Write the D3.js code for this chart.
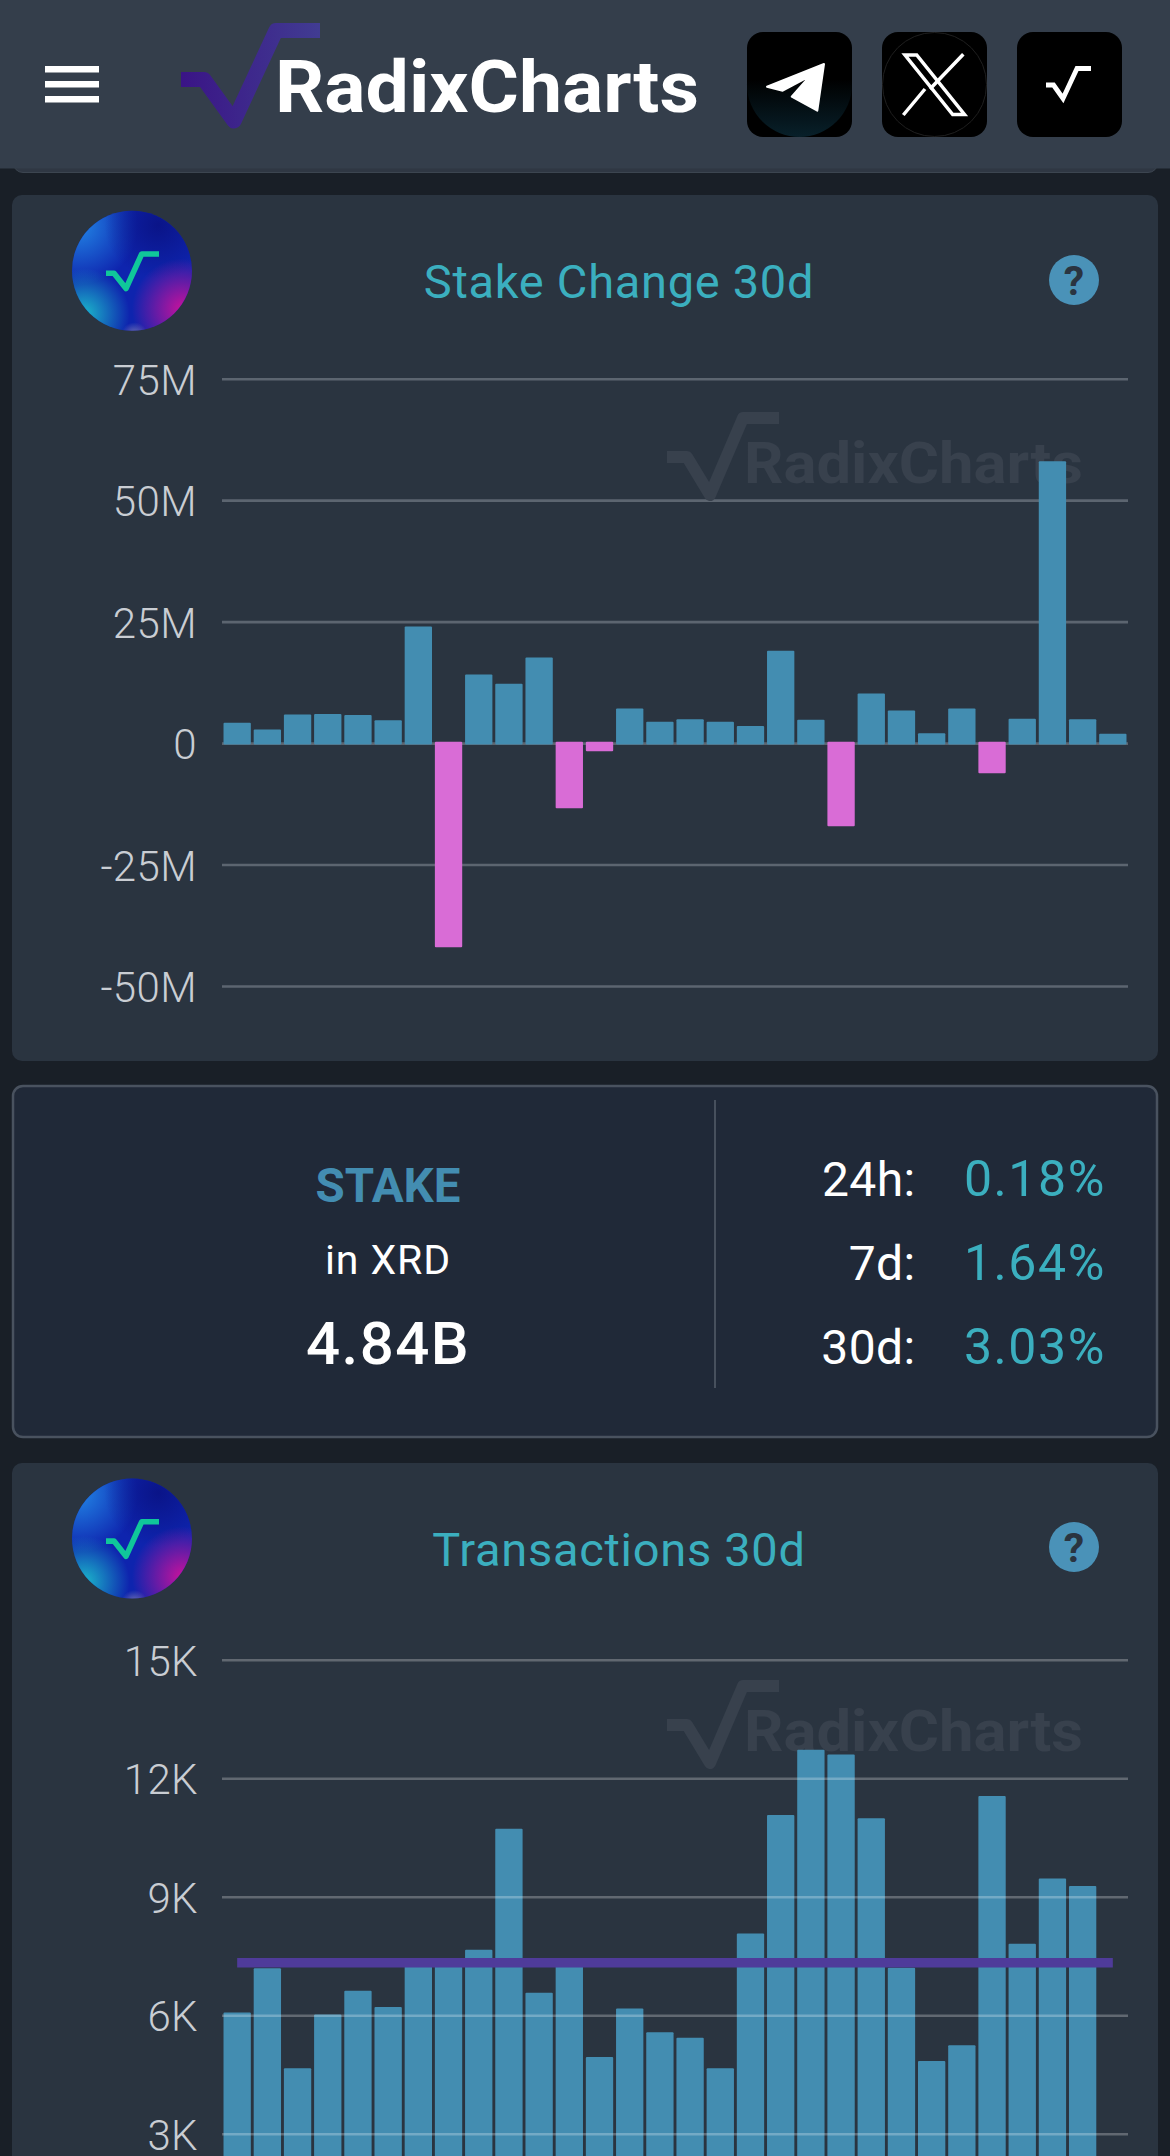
<!DOCTYPE html>
<html><head><meta charset="utf-8">
<script src="https://cdnjs.cloudflare.com/ajax/libs/d3/7.9.0/d3.min.js"></script>
<style>
html,body{margin:0;padding:0;background:#191f27;overflow:hidden;width:1170px;height:2156px}
svg{display:block;font-family:Roboto,"Noto Sans",sans-serif}
</style></head><body><svg id="c" width="1170" height="2156" viewBox="0 0 1170 2156"></svg>
<script>
// ---- data ----
const days = d3.range(1, 31).map(d => "Day " + d);
const stakeChange = [4.2,2.8,5.9,6.0,5.8,4.7,24.0,-42,14.1,12.2,17.6,-13.4,-1.7,7.1,4.4,4.9,4.4,3.5,19.0,4.8,-17.1,10.2,6.7,2.0,7.1,-6.2,5.0,58.0,4.9,1.9];
const stakeTicks = [75,50,25,0,-25,-50];
const transactions = [6.07,7.19,4.66,6.02,6.62,6.21,7.3,7.3,7.66,10.72,6.57,7.3,4.94,6.17,5.57,5.43,4.66,8.07,11.07,12.72,12.6,10.99,7.2,4.84,5.24,11.55,7.81,9.46,9.27,null];
const txTicks = [15,12,9,6,3];
const txAverage = 7.33;
const statLabels = ["24h:","7d:","30d:"];
const statValues = ["0.18%","1.64%","3.03%"];

// ---- style ----
const C = {head:"#343e4b",bg:"#191f27",card:"#2a3440",stat:"#202938",bar:"#438db1",neg:"#d96cd6",teal:"#3bafbf",
  grid:"#5c6570",label:"#c9cdd3",avg:"#4f3b9a",water:"#38414d"};
const svg = d3.select("#c");
const defs = svg.append("defs");

function radial(id,cx,cy,r,color,op){
  const g=defs.append("radialGradient").attr("id",id).attr("cx",cx).attr("cy",cy).attr("r",r);
  g.append("stop").attr("offset",0).attr("stop-color",color).attr("stop-opacity",op);
  g.append("stop").attr("offset",1).attr("stop-color",color).attr("stop-opacity",0);
}
radial("aBlue",.05,.12,.5,"#2286e6",1);
radial("aNavy",.72,.12,.45,"#0a1488",1);
radial("aCyan",.1,.86,.38,"#1cc0cc",.95);
radial("aMag",.92,.82,.42,"#c8129c",1);
radial("aPale",.52,1.04,.11,"#c8b0b8",.6);
const lg=defs.append("linearGradient").attr("id","logoG")
  .attr("gradientUnits","userSpaceOnUse").attr("x1",181).attr("x2",320).attr("y1",0).attr("y2",0);
lg.append("stop").attr("offset",0).attr("stop-color","#3a1486");
lg.append("stop").attr("offset",1).attr("stop-color","#413c92");
const tg=defs.append("linearGradient").attr("id","tgG").attr("x1",0).attr("x2",0).attr("y1",0).attr("y2",1);
tg.append("stop").attr("offset",.45).attr("stop-color","#000");
tg.append("stop").attr("offset",1).attr("stop-color","#08202a");

const line = d3.line();
function rrect(x,y,w,h,r,fill,stroke,sw){
  return svg.append("rect").attr("x",x).attr("y",y).attr("width",w).attr("height",h).attr("rx",r)
    .attr("fill",fill).attr("stroke",stroke||"none").attr("stroke-width",sw||0);
}

// ---- page frame ----
rrect(13,100,1145,72.5,10,"#2f3743","#3c4550",1);
rrect(0,0,1170,168.5,0,C.head);
rrect(12,195,1146,866,10,C.card);
rrect(13,1086,1144,351,10,C.stat,"#49525f",2.5);
rrect(12,1463,1146,720,10,C.card);

// hamburger
[66,81,96].forEach(y=>rrect(45,y,54,6.5,0,"#fff"));

// logo
svg.append("path").attr("d",line([[181,79.5],[204,79.5],[234,121],[276,30.5],[320,30.5]]))
  .attr("fill","none").attr("stroke","url(#logoG)").attr("stroke-width",15).attr("stroke-linejoin","round");
svg.append("text").attr("x",275).attr("y",112).attr("font-size",72).attr("font-weight",700).attr("fill","#fff")
  .attr("textLength",424).attr("lengthAdjust","spacingAndGlyphs").text("RadixCharts");

// buttons
[747,882,1017].forEach(x=>rrect(x,32,105,105,16,"#000"));
svg.append("circle").attr("cx",799.5).attr("cy",84.5).attr("r",52.5).attr("fill","url(#tgG)");
svg.append("path").attr("d",line([[767,86.7],[824,64],[817.3,110.7],[791.7,96.7],[810,76],[782.7,90.7]])+"Z")
  .attr("fill","#fff").attr("stroke","#fff").attr("stroke-width",2).attr("stroke-linejoin","round");
svg.append("circle").attr("cx",934.5).attr("cy",84.5).attr("r",52).attr("fill","none").attr("stroke","#1f1f1f");
svg.append("path").attr("d",line([[905,55],[916.7,55],[964.5,114.5],[952.7,114.5]])+"Z")
  .attr("fill","none").attr("stroke","#fff").attr("stroke-width",3.5);
svg.append("path").attr("d",line([[963.3,54.3],[930,89]])+line([[925,89],[903.3,115]]))
  .attr("fill","none").attr("stroke","#fff").attr("stroke-width",3.5);
svg.append("path").attr("d",line([[1046,85],[1053.5,85],[1063,98.5],[1077,68.5],[1091,68.5]]))
  .attr("fill","none").attr("stroke","#fff").attr("stroke-width",4.8);

function avatar(cy){
  const cx=132;
  svg.append("circle").attr("cx",cx).attr("cy",cy).attr("r",60).attr("fill","#0e24ae");
  ["aBlue","aNavy","aCyan","aMag","aPale"].forEach(id=>
    svg.append("circle").attr("cx",cx).attr("cy",cy).attr("r",60).attr("fill",`url(#${id})`));
  const o=cy-270.7;
  svg.append("path").attr("d",line([[106,273.3],[114,273.3],[126,288.5],[141.7,254],[159,254]].map(p=>[p[0],p[1]+o])))
    .attr("fill","none").attr("stroke","#10c79a").attr("stroke-width",5.6).attr("stroke-linejoin","round");
}
function help(cy){
  svg.append("circle").attr("cx",1074).attr("cy",cy).attr("r",25).attr("fill","#4a92b8");
  svg.append("text").attr("x",1074).attr("y",cy+14.5).attr("text-anchor","middle").attr("font-size",41).attr("font-weight",700)
    .attr("fill",C.card).text("?");
}
function title(t,y){
  svg.append("text").attr("x",619).attr("y",y).attr("text-anchor","middle").attr("font-size",47)
    .attr("letter-spacing",0.7).attr("fill",C.teal).text(t);
}
function watermark(o){
  const g=svg.append("g").attr("fill",C.water);
  g.append("path").attr("d",line([[667,457+o],[687,457+o],[710,495+o],[743,418+o],[779,418+o]]))
    .attr("fill","none").attr("stroke",C.water).attr("stroke-width",12).attr("stroke-linejoin","round");
  g.append("text").attr("x",744).attr("y",483+o).attr("font-size",57).attr("font-weight",700)
    .attr("textLength",339).attr("lengthAdjust","spacingAndGlyphs").text("RadixCharts");
}

// ---- shared x ----
const x = d3.scaleBand().domain(days).range([222,1128]).paddingInner(0.095).paddingOuter(0.05);

function styleAxis(g,gridColor){
  g.select(".domain").remove();
  g.selectAll(".tick line").attr("stroke",gridColor).attr("stroke-width",2.6);
  g.selectAll(".tick text").attr("fill",C.label).attr("font-size",42).attr("font-weight",300).attr("dy",15.5)
    .attr("letter-spacing",0.4).attr("font-family","Roboto,'Noto Sans',sans-serif");
}

// ---- Stake Change 30d ----
avatar(270.7); title("Stake Change 30d",297.5); help(280);
const yS = d3.scaleLinear().domain([-50,75]).range([986,378.7]);
svg.append("g").attr("transform","translate(222,0)")
  .call(d3.axisLeft(yS).tickValues(stakeTicks).tickSize(-906).tickPadding(25).tickFormat(d=>d===0?"0":d+"M"))
  .call(styleAxis,C.grid);
watermark(0);
const overlap=1.3;
svg.append("g").selectAll("rect").data(stakeChange).join("rect")
  .attr("x",(d,i)=>x(days[i])).attr("width",x.bandwidth()).attr("rx",1)
  .attr("y",d=>d>=0?yS(d):yS(0)-overlap)
  .attr("height",d=>Math.abs(yS(d)-yS(0))+overlap)
  .attr("fill",d=>d>=0?C.bar:C.neg);

// ---- Stat card ----
svg.append("line").attr("x1",715).attr("x2",715).attr("y1",1100).attr("y2",1388).attr("stroke","#47505d").attr("stroke-width",2);
const mid=svg.append("g").attr("text-anchor","middle");
mid.append("text").attr("x",388).attr("y",1201.5).attr("font-size",47.5).attr("font-weight",700).attr("fill",C.bar).text("STAKE");
mid.append("text").attr("x",388).attr("y",1274).attr("font-size",41).attr("font-weight",400).attr("letter-spacing",0.9).attr("fill","#fff").text("in XRD");
mid.append("text").attr("x",388).attr("y",1364).attr("font-size",60).attr("font-weight",500).attr("letter-spacing",1.4).attr("fill","#fff").text("4.84B");
const statY=d3.scalePoint().domain(statLabels).range([1196,1364]);
svg.append("g").selectAll("text").data(statLabels).join("text").attr("x",915.5).attr("y",d=>statY(d))
  .attr("text-anchor","end").attr("font-size",48).attr("font-weight",400).attr("letter-spacing",0.4).attr("fill","#fff").text(d=>d);
svg.append("g").selectAll("text").data(statValues).join("text").attr("x",1106).attr("y",(d,i)=>statY(statLabels[i]))
  .attr("text-anchor","end").attr("font-size",50).attr("letter-spacing",1.6).attr("fill",C.teal).text(d=>d);

// ---- Transactions 30d ----
avatar(1538.5); title("Transactions 30d",1565.5); help(1547);
const yT = d3.scaleLinear().domain([0,15]).range([2252.2,1659.8]);
watermark(1268);
svg.append("g").selectAll("rect").data(transactions).join("rect")
  .attr("x",(d,i)=>x(days[i])).attr("width",x.bandwidth()).attr("rx",1)
  .attr("y",d=>d==null?0:yT(d)).attr("height",d=>d==null?0:yT(0)-yT(d))
  .attr("fill",C.bar);
svg.append("g").attr("transform","translate(222,0)")
  .call(d3.axisLeft(yT).tickValues(txTicks).tickSize(-906).tickPadding(24).tickFormat(d=>d+"K"))
  .call(styleAxis,"rgba(255,255,255,0.26)");
svg.append("path").attr("d",d3.line().x(d=>x(d)+x.bandwidth()/2).y(yT(txAverage))([days[0],days[days.length-1]]))
  .attr("stroke",C.avg).attr("stroke-width",9.5).attr("fill","none");
</script></body></html>
